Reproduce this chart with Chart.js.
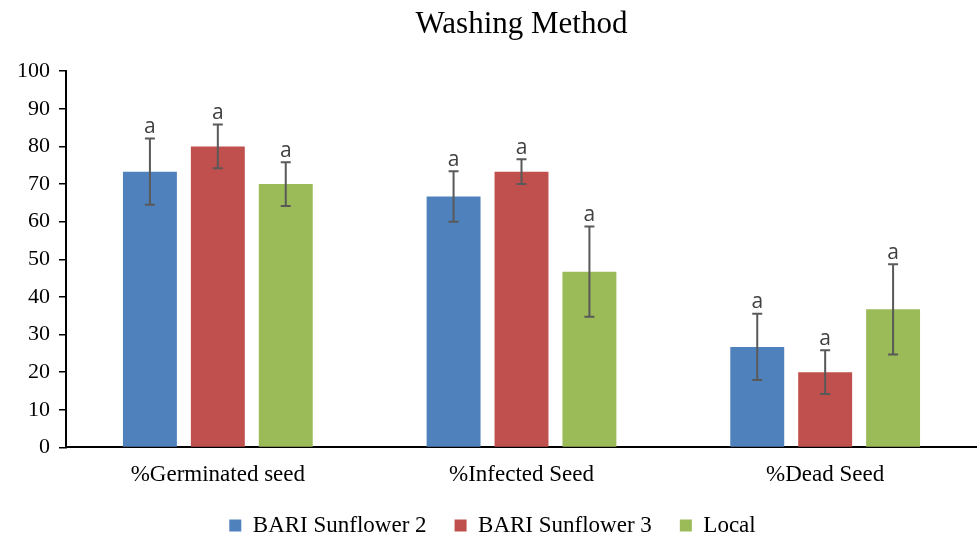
<!DOCTYPE html>
<html>
<head>
<meta charset="utf-8">
<script src="https://cdn.jsdelivr.net/npm/chart.js@4.4.1/dist/chart.umd.min.js"></script>
<style>
  html, body { margin: 0; padding: 0; background: #fff; }
  #wrap { width: 977px; height: 540px; }
</style>
</head>
<body>
<div id="wrap"><canvas id="chart"></canvas></div>
<script>
// data
const categories = ['%Germinated seed', '%Infected Seed', '%Dead Seed'];
const bari2 = [73.3, 66.7, 26.7];
const bari3 = [80.0, 73.3, 20.0];
const local = [70.0, 46.7, 36.7];
const bari2Err = [8.8, 6.7, 8.8];
const bari3Err = [5.8, 3.3, 5.8];
const localErr = [5.8, 12.0, 12.0];
const letters = ['a', 'a', 'a'];
const yTicks = [0, 10, 20, 30, 40, 50, 60, 70, 80, 90, 100];

const serif = '"Liberation Serif", "Times New Roman", serif';

// Error bars + significance letters
const errorBars = {
    id: 'errorBars',
    afterDatasetsDraw(chart) {
        const ctx = chart.ctx;
        const y = chart.scales.y;
        chart.data.datasets.forEach((ds, i) => {
            const meta = chart.getDatasetMeta(i);
            meta.data.forEach((bar, j) => {
                const v = ds.data[j], e = ds.errors[j];
                const top = y.getPixelForValue(v + e);
                const bot = y.getPixelForValue(v - e);
                ctx.save();
                ctx.strokeStyle = '#595959';
                ctx.lineWidth = 2;
                ctx.beginPath();
                ctx.moveTo(bar.x, top); ctx.lineTo(bar.x, bot);
                ctx.moveTo(bar.x - 5, top); ctx.lineTo(bar.x + 5, top);
                ctx.moveTo(bar.x - 5, bot); ctx.lineTo(bar.x + 5, bot);
                ctx.stroke();
                ctx.fillStyle = '#404040';
                ctx.font = '21px "Open Sans", "Liberation Sans", sans-serif';
                ctx.textAlign = 'center';
                ctx.textBaseline = 'bottom';
                ctx.fillText(ds.letters[j], bar.x, top - 1);
                ctx.restore();
            });
        });
    }
};

new Chart(document.getElementById('chart'), {
    type: 'bar',
    data: {
        labels: categories,
        datasets: [
            { label: 'BARI Sunflower 2', data: bari2, errors: bari2Err, letters: letters, backgroundColor: '#4f81bd' },
            { label: 'BARI Sunflower 3', data: bari3, errors: bari3Err, letters: letters, backgroundColor: '#c0504d' },
            { label: 'Local', data: local, errors: localErr, letters: letters, backgroundColor: '#9bbb59' }
        ]
    },
    options: {
        responsive: true,
        maintainAspectRatio: false,
        animation: false,
        categoryPercentage: 0.671,
        barPercentage: 0.794,
        layout: { padding: { left: 8, right: 0, top: 6, bottom: -7 } },
        plugins: {
            title: {
                display: true,
                fullSize: false,
                text: 'Washing Method',
                color: '#000',
                font: { family: serif, size: 31, weight: 'normal' },
                padding: { top: 0, bottom: 28 }
            },
            legend: {
                position: 'bottom',
                labels: {
                    color: '#000',
                    font: { family: serif, size: 23 },
                    boxWidth: 12,
                    boxHeight: 12,
                    padding: 28
                }
            },
            tooltip: { enabled: false }
        },
        scales: {
            x: {
                grid: { display: false },
                border: { display: true, color: '#000', width: 2 },
                ticks: { color: '#000', font: { family: serif, size: 23 }, padding: 6 },
                afterFit: s => { s.height -= 9; }
            },
            y: {
                min: 0,
                max: 100,
                afterBuildTicks: axis => { axis.ticks = yTicks.map(v => ({ value: v })); },
                grid: { drawOnChartArea: false, drawTicks: true, tickLength: 7, color: '#000', lineWidth: 1.5 },
                border: { display: true, color: '#000', width: 2 },
                ticks: { color: '#000', font: { family: serif, size: 22 }, padding: 9 }
            }
        }
    },
    plugins: [errorBars]
});
</script>
</body>
</html>
